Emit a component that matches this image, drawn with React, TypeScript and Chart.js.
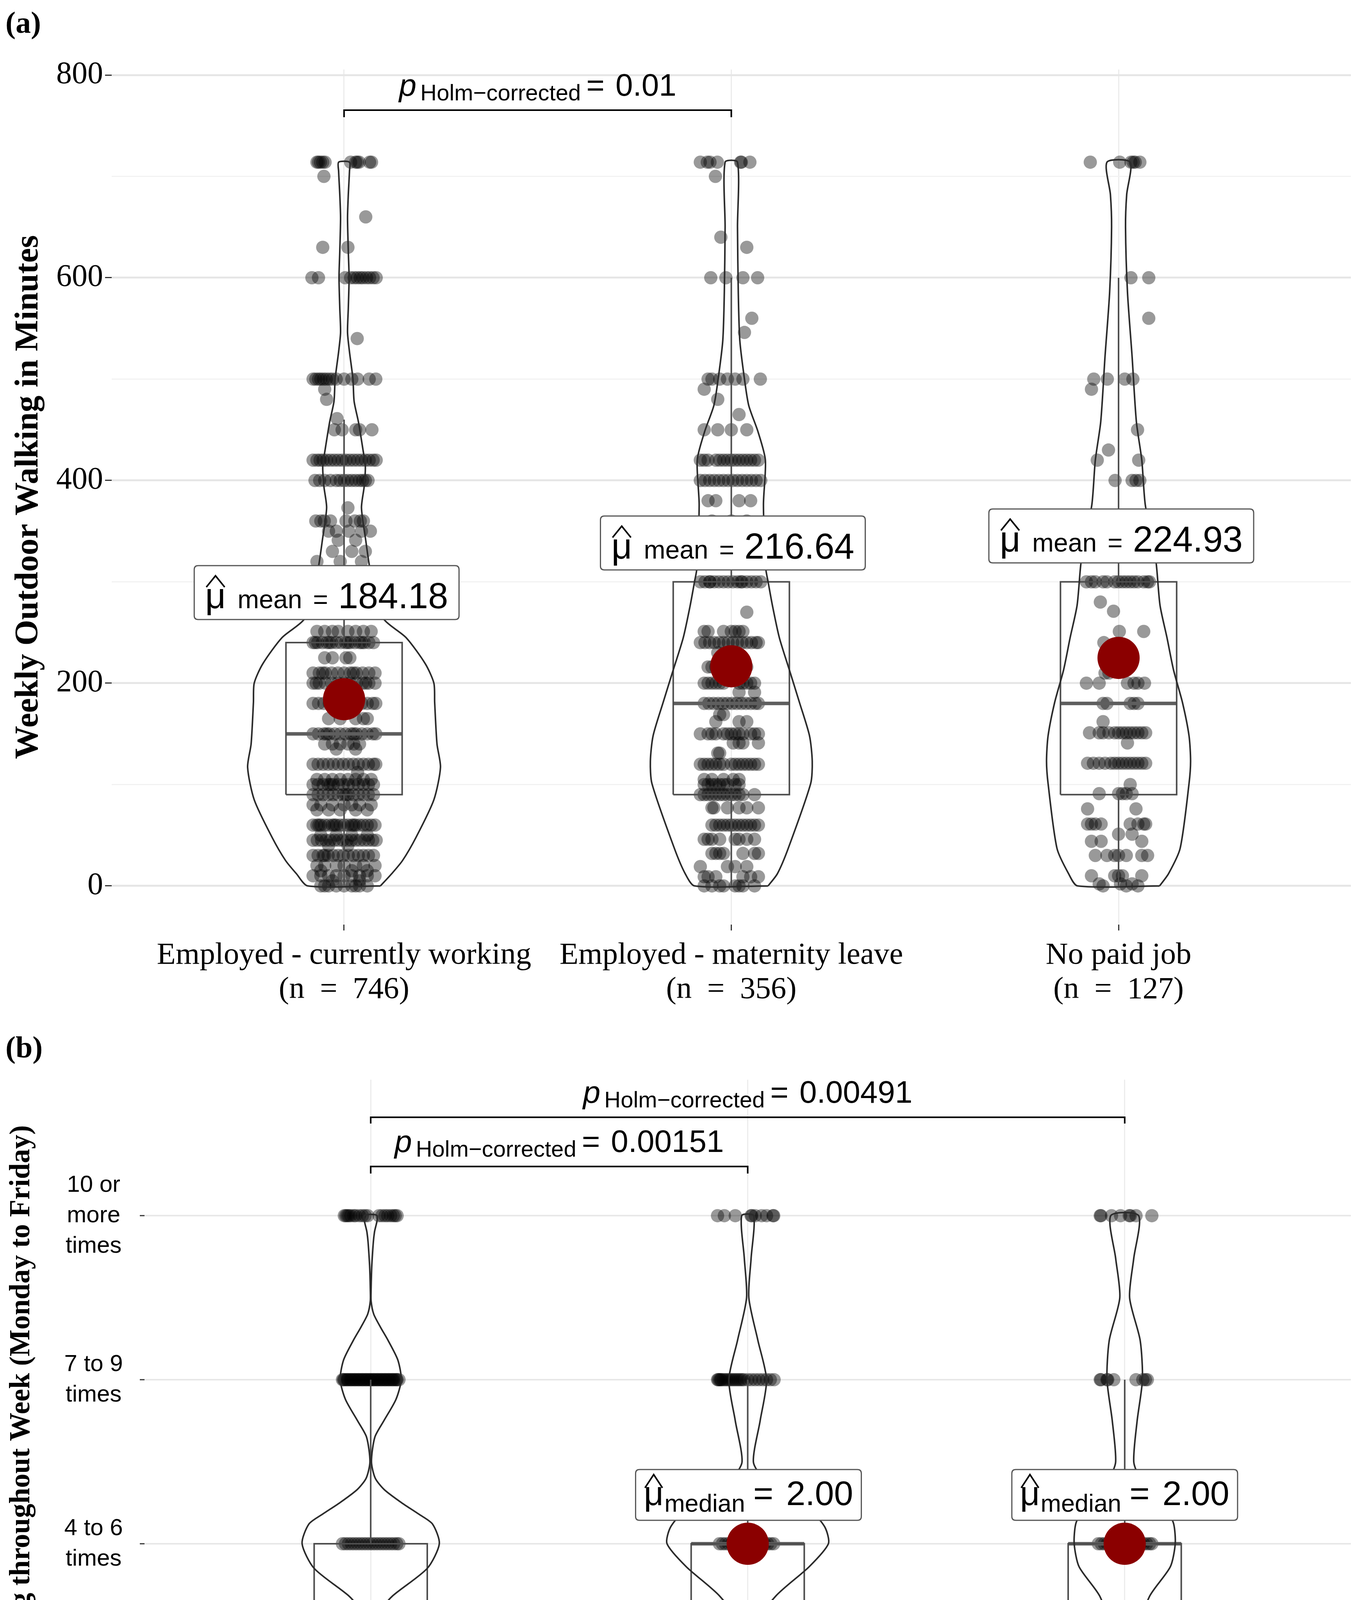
import React, { useEffect, useRef } from "react";
import { Chart, registerables } from "chart.js";
Chart.register(...registerables);

type Profile = [number, number][];
type Rows = [number, number[]][];

// ================= Panel (a) data =================
const categoriesA = ["Employed - currently working", "Employed - maternity leave", "No paid job"];
const nLabelsA = ["(n  =  746)", "(n  =  356)", "(n  =  127)"];
const yTicksA = [0, 100, 200, 300, 400, 500, 600, 700, 800];
const yTickLabelsA = ["0", "", "200", "", "400", "", "600", "", "800"];
const meansA = [184.18, 216.64, 224.93];
const q1A = [90, 90, 90];
const mediansA = [150, 180, 180];
const q3A = [240, 300, 300];
const whiskerLowA = [0, 0, 0];
const whiskerHighA = [460, 600, 600];
const pairsA: [number, number][] = [[1, 2]];
const pValuesA = ["0.01"];

// violin outlines: [value, half-width in category units]
const violinA1: Profile = [
  [0, 0.094], [12, 0.123], [25, 0.151], [48, 0.186], [85, 0.232], [117, 0.249], [140, 0.24],
  [181, 0.234], [200, 0.232], [219, 0.21], [245, 0.16], [263, 0.103], [290, 0.079], [317, 0.065],
  [341, 0.056], [373, 0.045], [394, 0.052], [414, 0.055], [430, 0.049], [458, 0.037], [478, 0.026],
  [500, 0.023], [527, 0.014], [546, 0.009], [570, 0.011], [600, 0.013], [626, 0.011], [659, 0.009],
  [682, 0.011], [705, 0.014], [714, 0.014],
];
const violinA2: Profile = [
  [0, 0.095], [12, 0.119], [37, 0.147], [101, 0.205], [123, 0.209], [148, 0.202], [181, 0.176],
  [213, 0.15], [245, 0.124], [277, 0.106], [300, 0.095], [313, 0.089], [376, 0.083], [420, 0.088],
  [448, 0.069], [474, 0.045], [500, 0.034], [538, 0.022], [586, 0.018], [650, 0.016], [714, 0.016],
];
const violinA3: Profile = [
  [0, 0.106], [12, 0.129], [37, 0.159], [101, 0.182], [123, 0.186], [148, 0.182], [181, 0.165],
  [213, 0.142], [245, 0.125], [277, 0.107], [322, 0.096], [376, 0.069], [420, 0.06], [458, 0.046],
  [522, 0.035], [586, 0.023], [650, 0.018], [682, 0.021], [714, 0.03],
];

// jittered observations: [value, x-offsets in hundredths of a category]
const jitterA1: Rows = [
  [714, [-7, -6.6, -6.1, -5.5, -4.9, 1.7, 3, 3.4, 3.9, 6.6, 7.1]],
  [700, [-5.2]], [660, [5.6]], [630, [-5.5, 1]],
  [600, [-8.3, -6.6, 0.3, 1.7, 2.6, 3.4, 4.2, 4.9, 5.8, 6.6, 7.5, 8.3]],
  [540, [3.4]],
  [500, [-8, -7.3, -6.6, -6, -5.3, -4.6, -3.8, -3, -2, 0, 2, 3.5, 6.5, 8.2]],
  [490, [-5]], [480, [-4.5]], [461, [-1.8]],
  [450, [-2.5, -0.5, 3, 4, 7.2]],
  [420, [-8, -7, -6.2, -5.4, -4.5, -3.5, -2.5, -1.5, -0.5, 0.5, 1.5, 2.5, 3.5, 4.5, 5.5, 6.5, 7.5, 8.3]],
  [400, [-7.5, -6.3, -5, -3.5, -2, -1, 0, 1, 2, 3, 4, 4.8, 5.5, 6.2]],
  [373, [1]],
  [360, [-7.3, -6, -5.1, -3.5, 0.5, 2.8, 4.2, 5]],
  [350, [-4, -2, 1.2, 4.5, 6.8]],
  [341, [-1.5, 3]], [330, [-3, 2, 5.5]], [320, [-7, -1, 4.5]],
  [300, [-6, -3, 0, 3, 6]], [280, [-4, 2]], [270, [-6, 0.5, 5]],
  [251, [-7, -5, -3, -1.5, 1, 3, 5, 7]],
  [240, [-8, -6.8, -5.6, -4.4, -3.2, -2, -0.8, 0.4, 1.6, 2.8, 4, 5.2, 6.4, 7.6, -7.4, -3.8, 1, 4.6]],
  [225, [-5, -3, 0.5, 1.5]],
  [210, [-8, -6.4, -4.8, -3.2, -1.6, 0, 1.6, 3.2, 4.8, 6.4, 8, -5.5, 2.4]],
  [200, [-8, -6.4, -4.8, -3.2, -1.6, 0, 1.6, 3.2, 4.8, 6.4, 8, -7.2, 5.6]],
  [180, [-8, -6.6, -5.2, -3.8, -2.4, -1, 0.4, 1.8, 3.2, 4.6, 6, 7.4, 8.2]],
  [165, [-4, -1, 3, 5, 6]],
  [150, [-8, -6.6, -5.2, -3.8, -2.4, -1, 0.4, 1.8, 3.2, 4.6, 6, 7.4, 8.2, -4.5, 2.5]],
  [140, [-5, -3, -1, 1, 2.5, 4]], [135, [-2, 3]],
  [120, [-8, -6.7, -5.4, -4.1, -2.8, -1.5, -0.2, 1.1, 2.4, 3.7, 5, 6.3, 7.6, 8.2]],
  [112, [3.5]],
  [105, [-7, -5, -3, -1, 1, 3, 5, 7]],
  [100, [-8, -6.7, -5.4, -4.1, -2.8, -1.5, -0.2, 1.1, 2.4, 3.7, 5, 6.3, 7.6, -3.5]],
  [90, [-8, -6.7, -5.4, -4.1, -2.8, -1.5, -0.2, 1.1, 2.4, 3.7, 5, 6.3, 7.6, 0.5]],
  [80, [-8, -6, -3, 0, 2, 4, 7]], [75, [-7, -4, -1, 3, 6]],
  [60, [-8, -7, -6, -5, -4, -3, -2, -1, 0, 1, 2, 3, 4, 5, 6, 7, 8, -6.5, -2.5, 2.5]],
  [50, [-6, -2, 2, 6]],
  [45, [-8, -6.9, -5.8, -4.7, -3.6, -2.5, -1.4, -0.3, 0.8, 1.9, 3, 4.1, 5.2, 6.3, 7.4, 8.3]],
  [40, [-4, 1]],
  [30, [-8, -6.7, -5.4, -4.1, -2.8, -1.5, -0.2, 1.1, 2.4, 3.7, 5, 6.3, 7.6, -5]],
  [20, [-7, -5, -2, 0, 3, 5, 8]], [15, [-6, 2, 6]],
  [10, [-8, -6, -4, -2, 0, 2, 4, 6, 8]], [5, [-3, 4]],
  [0, [-6, -5, -4, -2, 0, 2, 3, 4, 6]],
];
const jitterA2: Rows = [
  [714, [-8, -6.2, -5.5, -3.6, 2.4, 2.6, 4.8]],
  [700, [-4.1]], [640, [-2.7]], [630, [4]],
  [600, [-5.3, -1.4, 3, 6.8]], [560, [5.3]], [546, [3.4]],
  [500, [-6, -5, -3, -1, 1, 3, 7.5]], [490, [-7]], [480, [-3.5]], [465, [2]],
  [450, [-7, -3.5, 0, 4]],
  [420, [-8, -7, -6, -4, -3, -2, -1, 0, 1, 2, 3, 4, 5, 6, 7]],
  [400, [-8, -6.8, -5.6, -4.4, -3.2, -2, -0.8, 0.4, 1.6, 2.8, 4, 5.2, 6.4, 7.6]],
  [380, [-6, -4, 2, 5]], [360, [-5, 0, 4]], [330, [-2, 3]],
  [300, [-8, -6.8, -5.6, -4.4, -3.2, -2, -0.8, 0.4, 1.6, 2.8, 4, 5.2, 6.4, 7.6, -5.5, 2.5]],
  [270, [4]],
  [251, [-7, -6, -2, 0, 1, 2, 3]],
  [240, [-8, -6.8, -5.6, -4.4, -3.2, -2, -0.8, 0.4, 1.6, 2.8, 4, 5.2, 6.4, 7]],
  [230, [-3.5]],
  [216, [-6, -5, -4, -3, 4]],
  [200, [-7, -6, -5, -4, -3, -2, 2, 3, 4, 5, 6]],
  [191, [2, 6]],
  [180, [-7, -5.8, -4.6, -3.4, -2.2, -1, 0.2, 1.4, 2.6, 3.8, 5, 6.2, 7]],
  [169, [-3, -2]], [162, [-4, 2, 4]],
  [150, [-8, -6, -5, -4, -2, -1, 0, 1, 2, 3, 5, 6, 7]],
  [141, [0.5, 2, 3, 7]], [131, [-3.5, -3]],
  [120, [-8, -7, -6, -5, -4, -3, -2, 0, 1, 2, 3, 4, 5, 6, 7]],
  [105, [-7, -5, -2, 0.5, 2]],
  [100, [-7, -6, -5, -4, -3, -2, -1, 1, 2]],
  [90, [-8, -7, -6, -5, -4, -3, -2, -1, 0, 1, 2, 3, 6]],
  [77, [-5, -4.5, -1, 2, 4, 7]],
  [60, [-5, -4, -3, -2, -1, 0, 1, 2, 3, 4, 5, 6, 7]],
  [46, [-7, -6, -5, -3, 1, 2, 4, 6]],
  [32, [-5, -4, -3, -2, 3, 6, 7]],
  [19, [-8, -1, 1, 4]],
  [9, [-7, -6, -4, 3, 5, 7]],
  [0, [-7, -5, -3, -2, 1, 2, 3, 6]],
];
const jitterA3: Rows = [
  [714, [-7.3, 0.3, 3.2, 3.8, 4.3, 5.5]],
  [600, [3.2, 7.8]], [560, [7.8]],
  [500, [-6.4, -2.9, 1.6, 3.7]], [490, [-7]], [450, [4.9]], [430, [-2.6]],
  [420, [-5.5, 5.2]], [400, [-0.9, 3.5, 4.5, 5.5]], [360, [-3, 2]],
  [300, [-8.3, -7, -6, -4, -3, -1, 0, 1, 2, 3, 4, 5, 6.5, 7.5, 8]],
  [280, [-4.7]], [271, [-1.3]], [251, [0.2, 6.5]], [240, [-3.8]],
  [210, [-3.5, -2.5]],
  [200, [-8.3, -5, 2.3, 4, 5, 6.7]],
  [180, [-4, -3, 3, 4, 5]], [162, [-4]],
  [151, [-7.5, -5, -4, -2.5, -1, 0, 1, 2, 3, 4, 5, 6, 7]],
  [141, [2.3]],
  [121, [-8, -6.5, -5, -3.5, -2, -1, 0, 1, 2, 3, 4, 5, 6, 7]],
  [100, [3]],
  [91, [-5, 0, 1, 2, 3.5]], [76, [-8, 4.5]],
  [61, [-8, -7, -6, -4.5, 3, 5, 6.5, 7]],
  [51, [0, 3.5]], [44, [-7, -4.5, 6]],
  [30, [-6, -3, -1, 0, 2, 6, 7.5]],
  [10, [-7, -1, 0, 1, 6]], [2, [-5, 0.5, 3.5]], [0, [-4, 2, 5]],
];

// ================= Panel (b) data =================
const categoriesB = ["Employed - currently working", "Employed - maternity leave", "No paid job"];
const nLabelsB = ["(n = 774)", "(n = 370)", "(n = 131)"];
const yTicksB = [0, 0.5, 1, 1.5, 2, 2.5, 3, 3.5, 4, 4.5];
const yTickLabelsB: (string | string[])[] = [
  ["(almost)", "never"], "", ["1 to 3", "times"], "", ["4 to 6", "times"], "",
  ["7 to 9", "times"], "", ["10 or", "more", "times"], "",
];
const mediansB = [1, 2, 2];
const q1B = [1, 1, 1];
const q3B = [2, 2, 2];
const whiskerLowB = [0, 0, 0];
const whiskerHighB = [3, 3, 3];
const pairsB: [number, number][] = [[1, 3], [1, 2]];
const pValuesB = ["0.00491", "0.00151"];

const violinB1: Profile = [
  [0, 0.04], [0.16, 0.029], [0.34, 0.013], [0.52, 0.006], [0.6, 0.031], [0.7, 0.092], [0.78, 0.164],
  [0.88, 0.23], [1, 0.247], [1.14, 0.18], [1.2, 0.144], [1.3, 0.082], [1.4, 0.026], [1.5, 0.006],
  [1.58, 0.021], [1.68, 0.057], [1.85, 0.15], [2, 0.182], [2.12, 0.164], [2.18, 0.128], [2.25, 0.082],
  [2.33, 0.036], [2.4, 0.012], [2.5, 0.002], [2.65, 0.011], [2.75, 0.035], [2.88, 0.067], [3, 0.081],
  [3.12, 0.072], [3.24, 0.046], [3.32, 0.026], [3.4, 0.008], [3.48, 0.001], [3.55, 0.001], [3.64, 0.002],
  [3.7, 0.003], [3.84, 0.007], [3.9, 0.01], [4, 0.017],
];
const violinB2: Profile = [
  [0, 0.014], [0.16, 0.011], [0.34, 0.009], [0.52, 0.021], [0.7, 0.08], [0.88, 0.163], [1, 0.181],
  [1.14, 0.163], [1.32, 0.092], [1.5, 0.024], [1.68, 0.074], [1.86, 0.163], [2, 0.214], [2.1, 0.205],
  [2.2, 0.169], [2.3, 0.103], [2.4, 0.041], [2.5, 0.015], [2.75, 0.033], [3, 0.05], [3.24, 0.027],
  [3.5, 0.003], [3.74, 0.009], [4, 0.016],
];
const violinB3: Profile = [
  [0, 0.017], [0.16, 0.017], [0.34, 0.014], [0.52, 0.022], [0.7, 0.066], [0.88, 0.137], [1, 0.145],
  [1.14, 0.121], [1.32, 0.064], [1.5, 0.043], [1.68, 0.066], [1.86, 0.121], [2, 0.134], [2.12, 0.13],
  [2.2, 0.113], [2.3, 0.082], [2.4, 0.041], [2.5, 0.024], [2.75, 0.033], [3, 0.047], [3.24, 0.041],
  [3.5, 0.013], [3.74, 0.024], [4, 0.037],
];

const jitterB1: Rows = [
  [4, [-7, -6.6, -6.2, -5.8, -5.3, -4.5, -4, -3, -2.2, -1.5, -0.8, 2.2, 3, 3.8, 4.5, 5.3, 6, 6.5, 7]],
  [3, [-7.5, -7, -6.5, -6, -5.5, -5, -4.5, -4, -3.5, -3, -2.5, -2, -1.5, -1, -0.5, 0, 0.5, 1, 1.5, 2, 2.5,
    3, 3.5, 4, 4.5, 5, 5.5, 6, 6.5, 7, 7.5, -7.2, -6.2, -5.2, -4.2, -3.2, -2.2, -1.2, -0.2, 0.8, 1.8, 2.8,
    3.8, 4.8, 5.8, 6.8]],
  [2, [-7.5, -6.7, -5.9, -5.1, -4.3, -3.5, -2.7, -1.9, -1.1, -0.3, 0.5, 1.3, 2.1, 2.9, 3.7, 4.5, 5.3, 6.1, 6.9, 7.5]],
  [1, [-7.5, -7.1, -6.3, -5.5, -4.7, -3.9, -3.1, -2.3, -1.5, -0.7, 0.1, 0.9, 1.7, 2.5, 3.3, 4.1, 4.9, 5.7, 6.5, 7.3]],
  [0, [-7.5, -7, -6.5, -6, -5.5, -5, -4.5, -4, -3.5, -3, -2.5, -2, -1.5, -1, -0.5, 0, 0.5, 1, 1.5, 2, 2.5,
    3, 3.5, 4, 4.5, 5, 5.5, 6, 6.5, 7, 7.5, -6.2, -5.2, -4.2, -3.2, -2.2, -1.2, -0.2, 0.8, 1.8, 2.8, 3.8,
    4.8, 5.8, 6.8]],
];
const jitterB2: Rows = [
  [4, [-8, -6.2, -3.3, 0.9, 1.1, 2, 3.7, 5, 6.7, 6.9]],
  [3, [-8, -7.8, -7.5, -7.2, -7, -6.5, -6, -5.5, -5, -4.5, -4, -3.5, -3, -2.5, -2, -1.5, -1, 0, 1, 2, 3, 4,
    5, 6, 7]],
  [2, [-7.5, -6.7, -5.9, -5.1, -4.3, -3.5, -2.7, -1.9, -1.1, -0.3, 0.5, 1.3, 2.1, 2.9, 3.7, 4.5, 5.3, 6.1, 6.9]],
  [1, [-7.5, -6.9, -6.1, -5.3, -4.5, -3.7, -2.9, -2.1, -1.3, -0.5, 0.3, 1.1, 1.9, 2.7, 3.5, 4.3, 5.1, 5.9, 6.7, 7.2]],
  [0, [-7.6, -3.2, -2.8, -0.8, 0, 2.5, 5.4]],
];
const jitterB3: Rows = [
  [4, [-6.5, -6.3, -3.5, -1.1, 1.2, 1.5, 3, 7.2]],
  [3, [-6.5, -6.3, -4.7, -4.5, -2.9, 3, 4.8, 5.5, 6]],
  [2, [-7, -6.2, -5.4, -4.6, -3.8, -3, -2.2, -1.4, -0.6, 0.2, 1, 1.8, 2.6, 3.4, 4.2, 5, 5.8, 6.6, 7.2]],
  [1, [-7.2, -6.5, -5.7, -4.9, -4.1, -3.3, -2.5, -1.7, -0.9, -0.1, 0.7, 1.5, 2.3, 3.1, 3.9, 4.7, 5.5, 6.3, 7.1, 7.5]],
  [0, [-5, -4.8, -2.4, -0.6, 1.8]],
];

// ================= layout / style (not data) =================
const W = 3513;
const LAYOUT_A = {
  canvasTop: 0, height: 2600, padTop: 178, padRight: 52, yAxisWidth: 286, xAxisHeight: 233,
  yMin: -38.2, yMax: 805.4, tag: "(a)", tagY: 64,
  labelAnchors: [[0.955, 289.4], [2.004, 338.3], [3.007, 345.3]],
  brackets: [[765.3, 758.4]],
};
const LAYOUT_B = {
  canvasTop: 2600, height: 2471, padTop: 164, padRight: 27, yAxisWidth: 370, xAxisHeight: 185,
  yMin: -0.224, yMax: 4.829, tag: "(b)", tagY: 87,
  labelAnchors: [[1.0, 1.298], [2.002, 2.298], [3.0, 2.298]],
  brackets: [[4.6, 4.562], [4.3, 4.257]],
};
const BOX_HW = 0.15;
const SANS = '"Liberation Sans", Arial, sans-serif';
const SERIF = '"Liberation Serif", "Times New Roman", serif';

function jitterPoints(center: number, rows: Rows) {
  const pts: { x: number; y: number }[] = [];
  rows.forEach(([v, offs]) => offs.forEach((o) => pts.push({ x: center + o / 100, y: v })));
  return pts;
}
function violinPath(center: number, prof: Profile) {
  const right = prof.map(([v, w]) => ({ x: center + w, y: v }));
  const left = prof.slice().reverse().map(([v, w]) => ({ x: center - w, y: v }));
  return [...right, ...left, right[0]];
}
function boxOutline(c: number, q1: number, q3: number, lo: number, hi: number) {
  return [
    { x: c - BOX_HW, y: q1 }, { x: c + BOX_HW, y: q1 }, { x: c + BOX_HW, y: q3 }, { x: c - BOX_HW, y: q3 },
    { x: c - BOX_HW, y: q1 }, { x: c, y: null }, { x: c, y: q3 }, { x: c, y: hi }, { x: c, y: null },
    { x: c, y: q1 }, { x: c, y: lo },
  ];
}

type Part = { t: string; f: string; gap?: number; dy?: number };
function layoutParts(ctx: CanvasRenderingContext2D, parts: Part[]) {
  const widths = parts.map((p) => { ctx.font = p.f; return ctx.measureText(p.t).width; });
  let total = 0;
  parts.forEach((p, i) => { total += (p.gap || 0) + widths[i]; });
  return { widths, total };
}
function drawParts(ctx: CanvasRenderingContext2D, parts: Part[], left: number, baseline: number) {
  const { widths } = layoutParts(ctx, parts);
  const xs: number[] = [];
  let x = left;
  ctx.textAlign = "left";
  ctx.textBaseline = "alphabetic";
  parts.forEach((p, i) => {
    x += p.gap || 0;
    ctx.font = p.f;
    ctx.fillText(p.t, x, baseline + (p.dy || 0));
    xs.push(x);
    x += widths[i];
  });
  return { xs, widths };
}

function makePlugin(layout: any, pairs: [number, number][], pvals: string[], statValues: string[], isMean: boolean) {
  return {
    id: "annotations",
    afterDraw(chart: any) {
      const ctx: CanvasRenderingContext2D = chart.ctx;
      const xs = chart.scales.x, ys = chart.scales.y;
      ctx.save();
      ctx.fillStyle = "#000";
      // panel tag
      ctx.font = `bold 78px ${SERIF}`;
      ctx.textAlign = "left";
      ctx.textBaseline = "middle";
      ctx.fillText(layout.tag, 14, layout.tagY);
      // significance brackets
      pairs.forEach(([a, b], i) => {
        const x1 = xs.getPixelForValue(a), x2 = xs.getPixelForValue(b);
        const y = ys.getPixelForValue(layout.brackets[i][0]);
        const yt = ys.getPixelForValue(layout.brackets[i][1]);
        ctx.strokeStyle = "#000";
        ctx.lineWidth = 4;
        ctx.beginPath();
        ctx.moveTo(x1, yt); ctx.lineTo(x1, y); ctx.lineTo(x2, y); ctx.lineTo(x2, yt);
        ctx.stroke();
        const parts: Part[] = [
          { t: "p", f: `italic 80px ${SANS}` },
          { t: "Holm\u2212corrected", f: `58px ${SANS}`, gap: 10, dy: 12 },
          { t: "=", f: `80px ${SANS}`, gap: 14 },
          { t: pvals[i], f: `80px ${SANS}`, gap: 28 },
        ];
        const { total } = layoutParts(ctx, parts);
        drawParts(ctx, parts, (x1 + x2) / 2 - total / 2, y - 37);
      });
      // statistic labels
      statValues.forEach((val, g) => {
        const [ax, ay] = layout.labelAnchors[g];
        const cx = xs.getPixelForValue(ax), cy = ys.getPixelForValue(ay);
        const parts: Part[] = isMean
          ? [
              { t: "\u03bc", f: `92px ${SANS}` },
              { t: "mean", f: `66px ${SANS}`, gap: 30 },
              { t: "=", f: `66px ${SANS}`, gap: 28 },
              { t: val, f: `92px ${SANS}`, gap: 26 },
            ]
          : [
              { t: "\u03bc", f: `88px ${SANS}` },
              { t: "median", f: `63px ${SANS}`, gap: 2, dy: 17 },
              { t: "=", f: `88px ${SANS}`, gap: 21 },
              { t: val, f: `88px ${SANS}`, gap: 33 },
            ];
        const padX = isMean ? 28 : 21;
        const boxH = isMean ? 138 : 130;
        const { total } = layoutParts(ctx, parts);
        const bw = total + 2 * padX;
        const bx = cx - bw / 2, by = cy - boxH / 2, r = 10;
        ctx.beginPath();
        ctx.moveTo(bx + r, by);
        ctx.lineTo(bx + bw - r, by); ctx.quadraticCurveTo(bx + bw, by, bx + bw, by + r);
        ctx.lineTo(bx + bw, by + boxH - r); ctx.quadraticCurveTo(bx + bw, by + boxH, bx + bw - r, by + boxH);
        ctx.lineTo(bx + r, by + boxH); ctx.quadraticCurveTo(bx, by + boxH, bx, by + boxH - r);
        ctx.lineTo(bx, by + r); ctx.quadraticCurveTo(bx, by, bx + r, by);
        ctx.closePath();
        ctx.fillStyle = "#fff";
        ctx.fill();
        ctx.strokeStyle = "#555";
        ctx.lineWidth = 3;
        ctx.stroke();
        ctx.fillStyle = "#000";
        const baseline = isMean ? cy + 40 : cy + 26;
        const { xs: px, widths } = drawParts(ctx, parts, bx + padX, baseline);
        // hat over mu
        const hatLow = isMean ? 54 : 44, hatHigh = isMean ? 83 : 78;
        ctx.strokeStyle = "#000";
        ctx.lineWidth = 4;
        ctx.beginPath();
        ctx.moveTo(px[0] + 3, baseline - hatLow);
        ctx.lineTo(px[0] + widths[0] / 2, baseline - hatHigh);
        ctx.lineTo(px[0] + widths[0] - 3, baseline - hatLow);
        ctx.stroke();
      });
      ctx.restore();
    },
  };
}

function buildDatasets(jitters: Rows[], violins: Profile[], q1: number[], med: number[], q3: number[],
  lo: number[], hi: number[], centerStat: number[]) {
  const ds: any[] = [];
  for (let g = 0; g < 3; g++) {
    const c = g + 1;
    ds.push({ type: "scatter", data: jitterPoints(c, jitters[g]), pointRadius: 17, pointBackgroundColor: "rgba(0,0,0,0.4)", pointBorderWidth: 0, order: 5 });
    ds.push({ type: "line", data: boxOutline(c, q1[g], q3[g], lo[g], hi[g]), borderColor: "#4d4d4d", borderWidth: 4, pointRadius: 0, tension: 0, spanGaps: false, fill: false, order: 4 });
    ds.push({ type: "line", data: [{ x: c - BOX_HW, y: med[g] }, { x: c + BOX_HW, y: med[g] }], borderColor: "#5e5e5e", borderWidth: 9, borderCapStyle: "butt", pointRadius: 0, tension: 0, fill: false, order: 4 });
    ds.push({ type: "line", data: violinPath(c, violins[g]), borderColor: "#2b2b2b", borderWidth: 4, pointRadius: 0, tension: 0.25, fill: false, order: 3 });
    ds.push({ type: "scatter", data: [{ x: c, y: centerStat[g] }], pointRadius: 54, pointBackgroundColor: "#8B0000", pointBorderWidth: 0, order: 1 });
  }
  return ds;
}

function configA(): any {
  const L = LAYOUT_A;
  return {
    type: "scatter",
    data: { datasets: buildDatasets([jitterA1, jitterA2, jitterA3], [violinA1, violinA2, violinA3], q1A, mediansA, q3A, whiskerLowA, whiskerHighA, meansA) },
    options: {
      animation: false, responsive: false, devicePixelRatio: 1,
      layout: { padding: { top: L.padTop, right: L.padRight, left: 0, bottom: 0 } },
      plugins: { legend: { display: false }, tooltip: { enabled: false } },
      scales: {
        x: {
          type: "linear", min: 0.4, max: 3.6,
          afterBuildTicks: (s: any) => { s.ticks = categoriesA.map((_, i) => ({ value: i + 1 })); },
          afterFit: (s: any) => { s.height = L.xAxisHeight; },
          ticks: {
            autoSkip: false, maxRotation: 0, minRotation: 0, padding: 20, color: "#000",
            font: { family: SERIF, size: 79, lineHeight: 1.12 },
            callback: (v: number) => [categoriesA[Math.round(v) - 1], nLabelsA[Math.round(v) - 1]],
          },
          grid: { color: "#ECECEC", lineWidth: 3, drawTicks: true, tickLength: 15, tickColor: "#333", tickWidth: 3 },
          border: { display: false },
        },
        y: {
          type: "linear", min: L.yMin, max: L.yMax,
          afterBuildTicks: (s: any) => { s.ticks = yTicksA.map((v) => ({ value: v })); },
          afterFit: (s: any) => { s.width = L.yAxisWidth; },
          ticks: {
            padding: 5, color: "#000", font: { family: SERIF, size: 80 },
            callback: (v: number) => yTickLabelsA[yTicksA.indexOf(v)] ?? "",
          },
          grid: {
            color: (c: any) => (c.tick && c.tick.value % 200 === 0 ? "#E6E6E6" : "#F2F2F2"),
            lineWidth: (c: any) => (c.tick && c.tick.value % 200 === 0 ? 5 : 3),
            tickLength: 17, tickWidth: 3,
            tickColor: (c: any) => (c.tick && c.tick.value % 200 === 0 ? "#333" : "rgba(0,0,0,0)"),
          },
          border: { display: false },
          title: {
            display: true, text: "Weekly Outdoor Walking in Minutes", color: "#000",
            font: { family: SERIF, size: 85, weight: "bold" }, padding: { top: 23, bottom: 0 },
          },
        },
      },
    },
    plugins: [makePlugin(L, pairsA, pValuesA, meansA.map((m) => m.toFixed(2)), true)],
  };
}

function configB(): any {
  const L = LAYOUT_B;
  return {
    type: "scatter",
    data: { datasets: buildDatasets([jitterB1, jitterB2, jitterB3], [violinB1, violinB2, violinB3], q1B, mediansB, q3B, whiskerLowB, whiskerHighB, mediansB) },
    options: {
      animation: false, responsive: false, devicePixelRatio: 1,
      layout: { padding: { top: L.padTop, right: L.padRight, left: 0, bottom: 0 } },
      plugins: { legend: { display: false }, tooltip: { enabled: false } },
      scales: {
        x: {
          type: "linear", min: 0.4, max: 3.6,
          afterBuildTicks: (s: any) => { s.ticks = categoriesB.map((_, i) => ({ value: i + 1 })); },
          afterFit: (s: any) => { s.height = L.xAxisHeight; },
          ticks: {
            autoSkip: false, maxRotation: 0, minRotation: 0, padding: 0, color: "#000",
            font: { family: SERIF, size: 74, lineHeight: 1.1 },
            callback: (v: number) => [categoriesB[Math.round(v) - 1], nLabelsB[Math.round(v) - 1]],
          },
          grid: { color: "#ECECEC", lineWidth: 3, drawTicks: true, tickLength: 14, tickColor: "#333", tickWidth: 3 },
          border: { display: false },
        },
        y: {
          type: "linear", min: L.yMin, max: L.yMax,
          afterBuildTicks: (s: any) => { s.ticks = yTicksB.map((v) => ({ value: v })); },
          afterFit: (s: any) => { s.width = L.yAxisWidth; },
          ticks: {
            padding: 10, color: "#000", crossAlign: "center",
            font: { family: SANS, size: 60, lineHeight: 1.3 },
            callback: (v: number) => yTickLabelsB[yTicksB.indexOf(v)] ?? "",
          },
          grid: {
            color: (c: any) => (c.tick && Number.isInteger(c.tick.value) ? "#E8E8E8" : "#F0F0F0"),
            lineWidth: (c: any) => (c.tick && Number.isInteger(c.tick.value) ? 4 : 3),
            tickLength: 12, tickWidth: 3,
            tickColor: (c: any) => (c.tick && Number.isInteger(c.tick.value) ? "#333" : "rgba(0,0,0,0)"),
          },
          border: { display: false },
          title: {
            display: true, text: "Frequency of Walking throughout Week (Monday to Friday)", color: "#000",
            font: { family: SERIF, size: 73, weight: "bold" }, padding: { top: 12, bottom: 0 },
          },
        },
      },
    },
    plugins: [makePlugin(L, pairsB, pValuesB, mediansB.map((m) => m.toFixed(2)), false)],
  };
}

export default function App() {
  const refA = useRef<HTMLCanvasElement>(null);
  const refB = useRef<HTMLCanvasElement>(null);
  useEffect(() => {
    document.body.style.margin = "0";
    document.documentElement.style.overflow = "hidden";
    const a = new Chart(refA.current as HTMLCanvasElement, configA());
    const b = new Chart(refB.current as HTMLCanvasElement, configB());
    return () => { a.destroy(); b.destroy(); };
  }, []);
  return (
    <div style={{ position: "relative", width: W, height: 5071, background: "#fff", overflow: "hidden" }}>
      <canvas ref={refA} width={W} height={LAYOUT_A.height}
        style={{ position: "absolute", left: 0, top: LAYOUT_A.canvasTop, width: W, height: LAYOUT_A.height }} />
      <canvas ref={refB} width={W} height={LAYOUT_B.height}
        style={{ position: "absolute", left: 0, top: LAYOUT_B.canvasTop, width: W, height: LAYOUT_B.height }} />
    </div>
  );
}
